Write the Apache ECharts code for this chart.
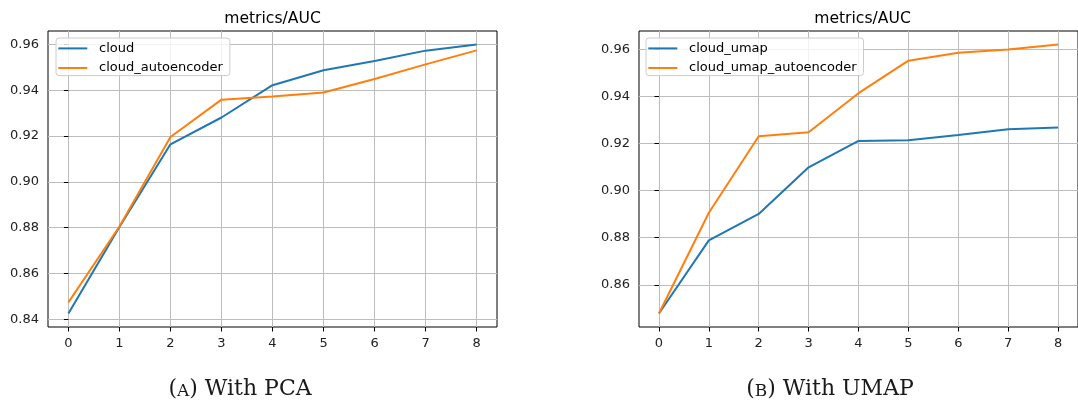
<!DOCTYPE html>
<html>
<head>
<meta charset="utf-8">
<script src="https://cdn.jsdelivr.net/npm/echarts@6/dist/echarts.min.js"></script>
<style>
  html, body { margin: 0; padding: 0; background: #ffffff; }
  #chart { width: 1078px; height: 403px; }
</style>
</head>
<body>
<div id="chart"></div>
<script>
// Training epochs on the x axis
const epochs = [0, 1, 2, 3, 4, 5, 6, 7, 8];
const xTicks = [0, 1, 2, 3, 4, 5, 6, 7, 8];

// AUC per epoch, PCA panel
const pcaCloud = [0.8425, 0.8803, 0.9164, 0.9281, 0.9422, 0.9487, 0.9528, 0.9573, 0.9600];
const pcaCloudAutoencoder = [0.8474, 0.8805, 0.9196, 0.9359, 0.9373, 0.9390, 0.9449, 0.9513, 0.9574];

// AUC per epoch, UMAP panel
const umapCloud = [0.8478, 0.8789, 0.8901, 0.9099, 0.9211, 0.9214, 0.9236, 0.9261, 0.9268];
const umapCloudAutoencoder = [0.8478, 0.8906, 0.9231, 0.9248, 0.9414, 0.9552, 0.9586, 0.9600, 0.9621];

// Y tick values for each panel
const pcaYTicks = [0.84, 0.86, 0.88, 0.90, 0.92, 0.94, 0.96];
const umapYTicks = [0.86, 0.88, 0.90, 0.92, 0.94, 0.96];

const panelTitle = 'metrics/AUC';
const captionA = ['A', ') With PCA'];
const captionB = ['B', ') With UMAP'];

const BLUE = '#1f77b4';
const ORANGE = '#ff7f0e';
const SANS = 'DejaVu Sans';
const SERIF = 'DejaVu Serif';
const GRID_GREY = '#bdbdbd';

// 5% padding around the data range, like the plotting default
function paddedRange(arrays) {
  const all = [].concat(...arrays);
  const lo = Math.min(...all), hi = Math.max(...all);
  const pad = (hi - lo) * 0.05;
  return [lo - pad, hi + pad];
}
const xPad = (epochs[epochs.length - 1] - epochs[0]) * 0.05;
const pcaRange = paddedRange([pcaCloud, pcaCloudAutoencoder]);
const umapRange = paddedRange([umapCloud, umapCloudAutoencoder]);

const pairs = (ys) => epochs.map((x, i) => [x, ys[i]]);

const grids = [
  { left: 48, top: 31, width: 449, height: 296 },
  { left: 639, top: 31, width: 447, height: 296 }
];

function xAxis(gridIndex) {
  return {
    type: 'value', gridIndex,
    min: epochs[0] - xPad, max: epochs[epochs.length - 1] + xPad,
    axisLine: { show: false },
    axisTick: { show: true, inside: false, length: 4.5, customValues: xTicks,
                lineStyle: { color: '#000', width: 1 } },
    axisLabel: { customValues: xTicks, margin: 10, color: '#222',
                 fontFamily: SANS, fontSize: 13, formatter: v => String(v) },
    splitLine: { show: true, lineStyle: { color: GRID_GREY, width: 1 } }
  };
}
function yAxis(gridIndex, range, ticks) {
  return {
    type: 'value', gridIndex,
    min: range[0], max: range[1],
    axisLine: { show: false },
    axisTick: { show: true, inside: false, length: 4.5, customValues: ticks,
                lineStyle: { color: '#000', width: 1 } },
    axisLabel: { customValues: ticks, margin: 9, color: '#222',
                 fontFamily: SANS, fontSize: 13, formatter: v => v.toFixed(2) },
    splitLine: { show: true, lineStyle: { color: GRID_GREY, width: 1 } }
  };
}
function line(name, data, color, idx) {
  return {
    name, type: 'line', xAxisIndex: idx, yAxisIndex: idx,
    data: pairs(data), symbol: 'none', showSymbol: false,
    lineStyle: { color, width: 2 }, itemStyle: { color },
    z: 3
  };
}
function legend(left, names) {
  return {
    left, top: 38, orient: 'vertical', data: names,
    icon: 'rect', itemWidth: 29, itemHeight: 2, itemGap: 5.6,
    padding: [3.4, 7, 0.6, 2.3],
    backgroundColor: 'rgba(255,255,255,0.8)',
    borderColor: '#cccccc', borderWidth: 1, borderRadius: 3,
    selectedMode: false,
    textStyle: { fontFamily: SANS, fontSize: 13, lineHeight: 14, color: '#000',
                 padding: [0, 0, 0, 6.7] }
  };
}
function caption(x, parts) {
  return {
    type: 'text', x, y: 389,
    style: {
      text: '{p|(}{s|' + parts[0] + '}{p|' + parts[1] + '}',
      align: 'center', verticalAlign: 'middle',
      rich: {
        p: { fontFamily: SERIF, fontSize: 22, fill: '#1a1a1a', verticalAlign: 'bottom' },
        s: { fontFamily: SERIF, fontSize: 17, fill: '#1a1a1a', verticalAlign: 'bottom' }
      }
    }
  };
}
function title(grid) {
  return {
    type: 'text', x: grid.left + grid.width / 2, y: 19,
    style: { text: panelTitle, font: '15.6px "' + SANS + '"', fill: '#000',
             align: 'center', verticalAlign: 'middle' }
  };
}

const chart = echarts.init(document.getElementById('chart'), null, { renderer: 'canvas' });
chart.setOption({
  animation: false,
  backgroundColor: '#ffffff',
  grid: grids.map(g => Object.assign({ show: true, borderColor: '#000', borderWidth: 1,
                                       backgroundColor: 'transparent', containLabel: false }, g)),
  xAxis: [xAxis(0), xAxis(1)],
  yAxis: [yAxis(0, pcaRange, pcaYTicks), yAxis(1, umapRange, umapYTicks)],
  legend: [legend(56, ['cloud', 'cloud_autoencoder']),
           legend(646, ['cloud_umap', 'cloud_umap_autoencoder'])],
  series: [
    line('cloud', pcaCloud, BLUE, 0),
    line('cloud_autoencoder', pcaCloudAutoencoder, ORANGE, 0),
    line('cloud_umap', umapCloud, BLUE, 1),
    line('cloud_umap_autoencoder', umapCloudAutoencoder, ORANGE, 1)
  ],
  graphic: [
    title(grids[0]),
    title(grids[1]),
    caption(240, captionA),
    caption(830, captionB)
  ]
});
</script>
</body>
</html>
